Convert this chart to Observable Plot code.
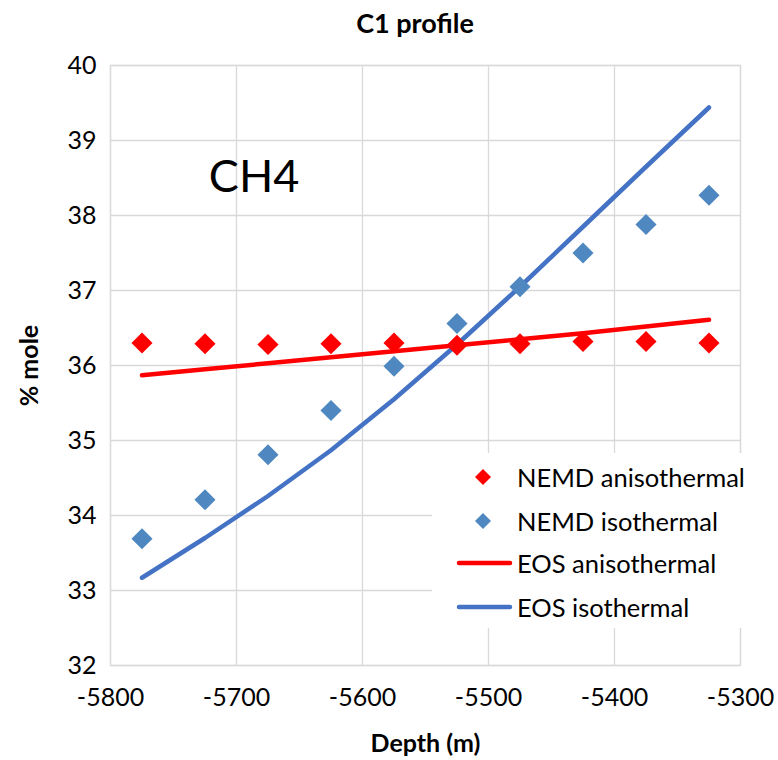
<!DOCTYPE html>
<html>
<head>
<meta charset="utf-8">
<script src="https://cdn.jsdelivr.net/npm/d3@7"></script>
<script src="https://cdn.jsdelivr.net/npm/@observablehq/plot@0.6"></script>
<style>
  html, body { margin: 0; padding: 0; background: #fff; }
  #wrap { position: relative; width: 778px; height: 760px; font-family: Lato, "Open Sans", sans-serif; }
  #title { height: 45px; text-align: center; font-weight: bold; font-size: 27px; line-height: 45px; padding-left: 52px; box-sizing: border-box; }
  #legend { position: absolute; left: 432px; top: 453px; width: 322px; height: 175px; background: #fff; }
  #legend .row { position: absolute; left: 0; height: 30px; width: 322px; }
  #legend .row span { position: absolute; left: 85px; top: 0; line-height: 30px; font-size: 25.5px; color: #000; white-space: nowrap; }
  #legend svg { position: absolute; left: 0; top: 0; }
  g[aria-label="y-axis label"] text, g[aria-label="x-axis label"] text { font-weight: bold; font-size: 25px; }
  g[aria-label="x-axis tick label"] text, g[aria-label="y-axis tick label"] text { font-size: 25px; }
</style>
</head>
<body>
<div id="wrap">
  <div id="title">C1 profile</div>
  <div id="chart"></div>
  <div id="legend"></div>
</div>
<script>
const depth = [-5775, -5725, -5675, -5625, -5575, -5525, -5475, -5425, -5375, -5325];
const nemdAnisothermal = [36.30, 36.29, 36.28, 36.29, 36.30, 36.27, 36.29, 36.32, 36.32, 36.30];
const nemdIsothermal = [33.69, 34.21, 34.81, 35.40, 35.99, 36.56, 37.05, 37.50, 37.88, 38.27];
const eosAnisothermal = [35.87, 35.95, 36.03, 36.11, 36.19, 36.27, 36.35, 36.43, 36.52, 36.61];
const eosIsothermal = [33.17, 33.70, 34.26, 34.87, 35.55, 36.28, 37.05, 37.85, 38.65, 39.44];
const xTicks = [-5800, -5700, -5600, -5500, -5400, -5300];
const yTicks = [32, 33, 34, 35, 36, 37, 38, 39, 40];
const seriesNames = ["NEMD anisothermal", "NEMD isothermal", "EOS anisothermal", "EOS isothermal"];
const seriesColors = ["#FF0000", "#4F88C0", "#FF0000", "#4472C4"];
const annotation = [{x: -5686, y: 38.5, text: "CH4"}];

const rows = depth.map((d, i) => ({
  depth: d,
  nemdA: nemdAnisothermal[i],
  nemdI: nemdIsothermal[i],
  eosA: eosAnisothermal[i],
  eosI: eosIsothermal[i]
}));

const chart = Plot.plot({
  width: 778,
  height: 715,
  marginLeft: 110,
  marginRight: 38,
  marginTop: 20,
  marginBottom: 95,
  style: { fontFamily: "Lato, 'Open Sans', sans-serif", fontSize: "25px", color: "#000", background: "#fff", overflow: "visible" },
  x: { domain: [-5800, -5300] },
  y: { domain: [32, 40] },
  marks: [
    Plot.gridX(xTicks, { stroke: "#d9d9d9", strokeOpacity: 1, strokeWidth: 1.3 }),
    Plot.gridY(yTicks, { stroke: "#d9d9d9", strokeOpacity: 1, strokeWidth: 1.3 }),
    Plot.frame({ stroke: "#d9d9d9", strokeWidth: 1.3 }),
    Plot.axisX(xTicks, { tickSize: 0, tickPadding: 23, tickFormat: d => String(d), label: "Depth (m)", labelAnchor: "center", labelArrow: "none", labelOffset: 86, fontSize: 25 }),
    Plot.axisY(yTicks, { tickSize: 0, tickPadding: 14, tickFormat: d => String(d), label: "% mole", labelAnchor: "center", labelArrow: "none", labelOffset: 90, fontSize: 25 }),
    Plot.line(rows, { x: "depth", y: "eosA", stroke: seriesColors[2], strokeWidth: 4.5, strokeLinecap: "round" }),
    Plot.line(rows, { x: "depth", y: "eosI", stroke: seriesColors[3], strokeWidth: 4.5, strokeLinecap: "round" }),
    Plot.dot(rows, { x: "depth", y: "nemdA", symbol: "diamond2", r: 9.5, fill: seriesColors[0], stroke: "none" }),
    Plot.dot(rows, { x: "depth", y: "nemdI", symbol: "diamond2", r: 9.5, fill: seriesColors[1], stroke: "none" }),
    Plot.text(annotation, { x: "x", y: "y", text: "text", fontSize: 45, fill: "#000", textAnchor: "middle" })
  ]
});
document.getElementById("chart").appendChild(chart);

// legend
const legend = document.getElementById("legend");
const rowTops = [9, 53, 95, 139];
seriesNames.forEach((name, i) => {
  const row = document.createElement("div");
  row.className = "row";
  row.style.top = rowTops[i] + "px";
  let sym;
  if (i < 2) {
    sym = `<svg width="90" height="30"><path d="M51,7 L59,15 L51,23 L43,15 Z" fill="${seriesColors[i]}"/></svg>`;
  } else {
    sym = `<svg width="90" height="30"><line x1="27" y1="15" x2="78" y2="15" stroke="${seriesColors[i]}" stroke-width="4.5" stroke-linecap="round"/></svg>`;
  }
  row.innerHTML = sym + `<span>${name}</span>`;
  legend.appendChild(row);
});
</script>
</body>
</html>
